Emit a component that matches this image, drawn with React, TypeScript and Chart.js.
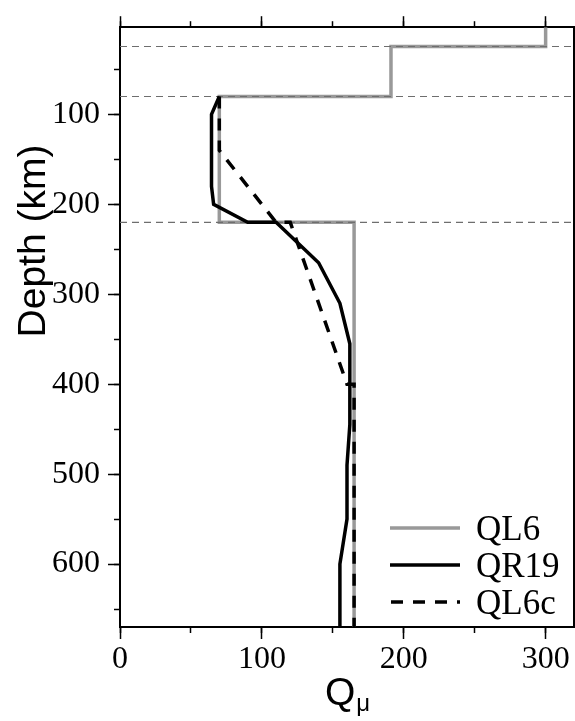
import React, { useEffect, useRef } from 'react';
import { Chart, registerables } from 'chart.js';

Chart.register(...registerables);

// ---- data ----
const ql6Q = [300, 300, 191, 191, 70, 70, 165, 165];
const ql6Depth = [3, 24.4, 24.4, 80, 80, 220, 220, 670];

const qr19Q = [70, 64.5, 64.5, 66, 90, 110, 140, 155, 162, 162, 160, 160, 155, 155];
const qr19Depth = [80, 100, 180, 200, 220, 220, 265, 310, 355, 445, 490, 550, 600, 670];

const ql6cQ = [70, 70, 110, 120, 160, 165, 165];
const ql6cDepth = [80, 140, 220, 220, 400, 400, 670];

const boundaryDepths = [24.4, 80, 220];

const seriesLabels = ['QL6', 'QR19', 'QL6c'];
const xMin = 0;
const xMax = 320;
const yMin = 3;
const yMax = 670;
const xMajorStep = 100;
const xMinorStep = 50;
const yMajorStep = 100;
const yMinorStep = 50;

const xTitle = 'Q';
const xTitleSub = 'μ';
const yTitle = 'Depth (km)';

const pts = (qs: number[], ds: number[]) => qs.map((q, i) => ({ x: q, y: ds[i] }));

const tickFont = { family: 'Liberation Serif', size: 32 };

const overlay = {
  id: 'overlay',
  afterDraw(chart: any) {
    const ctx = chart.ctx as CanvasRenderingContext2D;
    const { left, right, bottom } = chart.chartArea;
    ctx.save();
    // legend
    const items = chart.data.datasets.filter((d: any) => seriesLabels.includes(d.label));
    const rowStep = 37;
    const lastRowY = bottom - 25;
    items.forEach((d: any, i: number) => {
      const y = lastRowY - (items.length - 1 - i) * rowStep;
      ctx.beginPath();
      ctx.strokeStyle = d.borderColor;
      ctx.lineWidth = d.borderWidth;
      ctx.setLineDash(d.borderDash ? [12, 10] : []);
      ctx.lineDashOffset = d.borderDash ? -1 : 0;
      ctx.moveTo(right - 184, y);
      ctx.lineTo(right - 114, y);
      ctx.stroke();
      ctx.setLineDash([]);
      ctx.fillStyle = '#000';
      ctx.font = '35px "Liberation Serif"';
      ctx.textAlign = 'left';
      ctx.textBaseline = 'alphabetic';
      ctx.fillText(d.label, right - 98, y + 12);
    });
    // y title
    ctx.save();
    ctx.translate(34, 241);
    ctx.rotate(-Math.PI / 2);
    ctx.font = '39px "Liberation Sans"';
    ctx.textAlign = 'center';
    ctx.textBaseline = 'middle';
    ctx.fillText(yTitle, 0, 0);
    ctx.restore();
    // x title with subscript
    ctx.font = '39px "Liberation Sans"';
    const qw = ctx.measureText(xTitle).width;
    ctx.font = '24px "Liberation Sans"';
    const mw = ctx.measureText(xTitleSub).width;
    const cx = (left + right) / 2;
    const x0 = cx - (qw + mw) / 2;
    ctx.textAlign = 'left';
    ctx.textBaseline = 'alphabetic';
    ctx.font = '39px "Liberation Sans"';
    ctx.fillText(xTitle, x0, 705);
    ctx.font = '24px "Liberation Sans"';
    ctx.fillText(xTitleSub, x0 + qw + 1, 711);
    ctx.restore();
  },
};

const tickGrid = (len: number) => ({
  display: true,
  drawOnChartArea: false,
  drawTicks: true,
  tickLength: len,
  tickColor: '#000',
  tickWidth: 1.5,
});

export default function App() {
  const ref = useRef<HTMLCanvasElement | null>(null);

  useEffect(() => {
    if (!ref.current) return;
    const chart = new Chart(ref.current, {
      type: 'line',
      data: {
        datasets: [
          {
            label: seriesLabels[0],
            data: pts(ql6Q, ql6Depth),
            borderColor: '#999999',
            borderWidth: 3.5,
            order: 4,
          },
          ...boundaryDepths.map((d) => ({
            label: '_boundary',
            data: [
              { x: xMin, y: d },
              { x: xMax, y: d },
            ],
            borderColor: '#6e6e6e',
            borderWidth: 1.1,
            borderDash: [7, 5],
            order: 3,
          })),
          {
            label: seriesLabels[1],
            data: pts(qr19Q, qr19Depth),
            borderColor: '#000',
            borderWidth: 3.5,
            order: 2,
          },
          {
            label: seriesLabels[2],
            data: pts(ql6cQ, ql6cDepth),
            borderColor: '#000',
            borderWidth: 3.5,
            borderDash: [12, 10],
            order: 1,
          },
        ] as any,
      },
      options: {
        animation: false,
        responsive: false,
        events: [],
        elements: {
          point: { radius: 0 },
          line: { tension: 0, fill: false, borderCapStyle: 'butt' },
        },
        layout: { padding: 0 },
        plugins: {
          legend: { display: false },
          tooltip: { enabled: false },
        },
        scales: {
          x: {
            type: 'linear',
            axis: 'x',
            position: 'bottom',
            weight: 1,
            min: xMin,
            max: xMax,
            ticks: {
              stepSize: xMajorStep,
              includeBounds: false,
              autoSkip: false,
              maxRotation: 0,
              font: tickFont,
              color: '#000',
              padding: 1,
            },
            grid: tickGrid(12),
            border: { display: true, color: '#000', width: 2 },
            afterFit: (s: any) => {
              s.height = 94;
            },
          },
          xMinor: {
            type: 'linear',
            axis: 'x',
            position: 'bottom',
            weight: 0,
            min: xMin,
            max: xMax,
            ticks: { stepSize: xMinorStep, includeBounds: false, autoSkip: false, display: false },
            grid: tickGrid(6),
            border: { display: false },
            afterFit: (s: any) => {
              s.height = 0;
            },
          },
          xTop: {
            type: 'linear',
            axis: 'x',
            position: 'top',
            weight: 1,
            min: xMin,
            max: xMax,
            ticks: { stepSize: xMajorStep, includeBounds: false, autoSkip: false, display: false },
            grid: tickGrid(11),
            border: { display: true, color: '#000', width: 2 },
            afterFit: (s: any) => {
              s.height = 22;
            },
          },
          xTopMinor: {
            type: 'linear',
            axis: 'x',
            position: 'top',
            weight: 0,
            min: xMin,
            max: xMax,
            ticks: { stepSize: xMinorStep, includeBounds: false, autoSkip: false, display: false },
            grid: tickGrid(6),
            border: { display: false },
            afterFit: (s: any) => {
              s.height = 0;
            },
          },
          y: {
            type: 'linear',
            axis: 'y',
            position: 'left',
            weight: 1,
            reverse: true,
            min: yMin,
            max: yMax,
            ticks: {
              stepSize: yMajorStep,
              includeBounds: false,
              autoSkip: false,
              font: tickFont,
              color: '#000',
              padding: 8,
            },
            grid: tickGrid(12),
            border: { display: true, color: '#000', width: 2 },
            afterFit: (s: any) => {
              s.width = 120;
            },
          },
          yMinor: {
            type: 'linear',
            axis: 'y',
            position: 'left',
            weight: 0,
            reverse: true,
            min: yMin,
            max: yMax,
            ticks: { stepSize: yMinorStep, includeBounds: false, autoSkip: false, display: false },
            grid: tickGrid(6),
            border: { display: false },
            afterFit: (s: any) => {
              s.width = 0;
            },
          },
          yRight: {
            type: 'linear',
            axis: 'y',
            position: 'right',
            reverse: true,
            min: yMin,
            max: yMax,
            ticks: { display: false, stepSize: yMinorStep },
            grid: { display: false, drawTicks: false },
            border: { display: true, color: '#000', width: 2 },
            afterFit: (s: any) => {
              s.width = 1;
            },
          },
        },
      } as any,
      plugins: [overlay],
    });
    return () => chart.destroy();
  }, []);

  return (
    <div style={{ position: 'absolute', left: 0, top: 0, width: 575, height: 721, background: '#fff' }}>
      <canvas ref={ref} width={575} height={721} style={{ display: 'block' }} />
    </div>
  );
}
